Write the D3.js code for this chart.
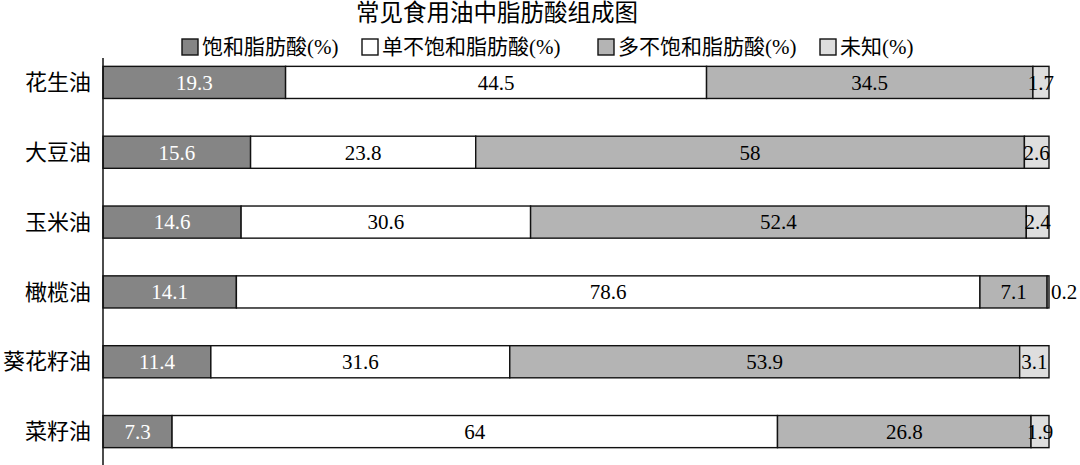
<!DOCTYPE html>
<html>
<head>
<meta charset="utf-8">
<script src="https://cdn.jsdelivr.net/npm/d3@7"></script>
<style>
  body { margin: 0; background: #fff; }
  svg text { font-family: "Liberation Serif", "Noto Sans CJK SC", serif; }
</style>
</head>
<body>
<script>
// oils (top to bottom) and their fatty acid shares (%)
var oils = ["花生油", "大豆油", "玉米油", "橄榄油", "葵花籽油", "菜籽油"];
var seriesNames = ["饱和脂肪酸(%)", "单不饱和脂肪酸(%)", "多不饱和脂肪酸(%)", "未知(%)"];
var saturated = [19.3, 15.6, 14.6, 14.1, 11.4, 7.3];
var monoUnsat = [44.5, 23.8, 30.6, 78.6, 31.6, 64];
var polyUnsat = [34.5, 58, 52.4, 7.1, 53.9, 26.8];
var unknown = [1.7, 2.6, 2.4, 0.2, 3.1, 1.9];

var colors = ["#858585", "#ffffff", "#b4b4b4", "#dedede"];
var labelColors = ["#ffffff", "#000", "#000", "#000"];

var width = 1080, height = 465;

var rows = oils.map(function(o, i) {
  return {oil: o, v: [saturated[i], monoUnsat[i], polyUnsat[i], unknown[i]]};
});
var table = rows.map(function(r) {
  var d = {oil: r.oil};
  seriesNames.forEach(function(s, j) { d[s] = r.v[j]; });
  return d;
});
var stacked = d3.stack().keys(seriesNames)(table);

var x = d3.scaleLinear().domain([0, 100]).range([103, 1049]);
var y = d3.scaleBand().domain(oils).range([47.5, 466.5]).paddingInner(0.54).paddingOuter(0.27);

var svg = d3.select("body").append("svg")
  .attr("width", width)
  .attr("height", height);

//title
svg.append("text")
  .attr("x", 497).attr("y", 13)
  .attr("dy", "0.35em")
  .style("text-anchor", "middle")
  .style("font-size", "23.5px")
  .text("常见食用油中脂肪酸组成图");

//bars
var layer = svg.selectAll("g.layer")
  .data(stacked)
  .enter().append("g")
  .attr("class", "layer");

layer.each(function(s, k) {
  var g = d3.select(this);
  g.selectAll("rect")
    .data(s)
    .enter().append("rect")
    .attr("x", function(d) { return x(d[0]); })
    .attr("width", function(d) { return x(d[1]) - x(d[0]); })
    .attr("y", function(d) { return y(d.data.oil); })
    .attr("height", y.bandwidth())
    .attr("fill", colors[k])
    .attr("stroke", "#111")
    .attr("stroke-width", 1.4);
});

//value labels
layer.each(function(s, k) {
  d3.select(this).selectAll("text")
    .data(s)
    .enter().append("text")
    .attr("x", function(d) {
      var w = x(d[1]) - x(d[0]);
      return w < 8 ? x(d[1]) + 2 : (x(d[0]) + x(d[1])) / 2;
    })
    .attr("y", function(d) { return y(d.data.oil) + y.bandwidth() / 2; })
    .attr("dy", "0.35em")
    .style("text-anchor", function(d) { return (x(d[1]) - x(d[0])) < 8 ? "start" : "middle"; })
    .style("font-size", "21px")
    .attr("fill", labelColors[k])
    .text(function(d) { return d[1] - d[0] > 0 ? +(d[1] - d[0]).toFixed(1) : ""; });
});

//category axis
svg.append("line")
  .attr("x1", 103).attr("x2", 103)
  .attr("y1", 58).attr("y2", 465)
  .attr("stroke", "#111").attr("stroke-width", 1.5);

svg.selectAll("text.cat")
  .data(oils)
  .enter().append("text")
  .attr("class", "cat")
  .attr("x", 91)
  .attr("y", function(d) { return y(d) + y.bandwidth() / 2; })
  .attr("dy", "0.35em")
  .style("text-anchor", "end")
  .style("font-size", "22px")
  .text(function(d) { return d; });

//legend
var legendX = [182, 362, 598, 820];
var legend = svg.selectAll("g.legend")
  .data(seriesNames)
  .enter().append("g")
  .attr("class", "legend")
  .attr("transform", function(d, i) { return "translate(" + legendX[i] + ",39)"; });

legend.append("rect")
  .attr("width", 16).attr("height", 16)
  .attr("fill", function(d, i) { return colors[i]; })
  .attr("stroke", "#111").attr("stroke-width", 1.4);

legend.append("text")
  .attr("x", 20).attr("y", 8)
  .attr("dy", "0.35em")
  .style("font-size", "21px")
  .text(function(d) { return d; });
</script>
</body>
</html>
